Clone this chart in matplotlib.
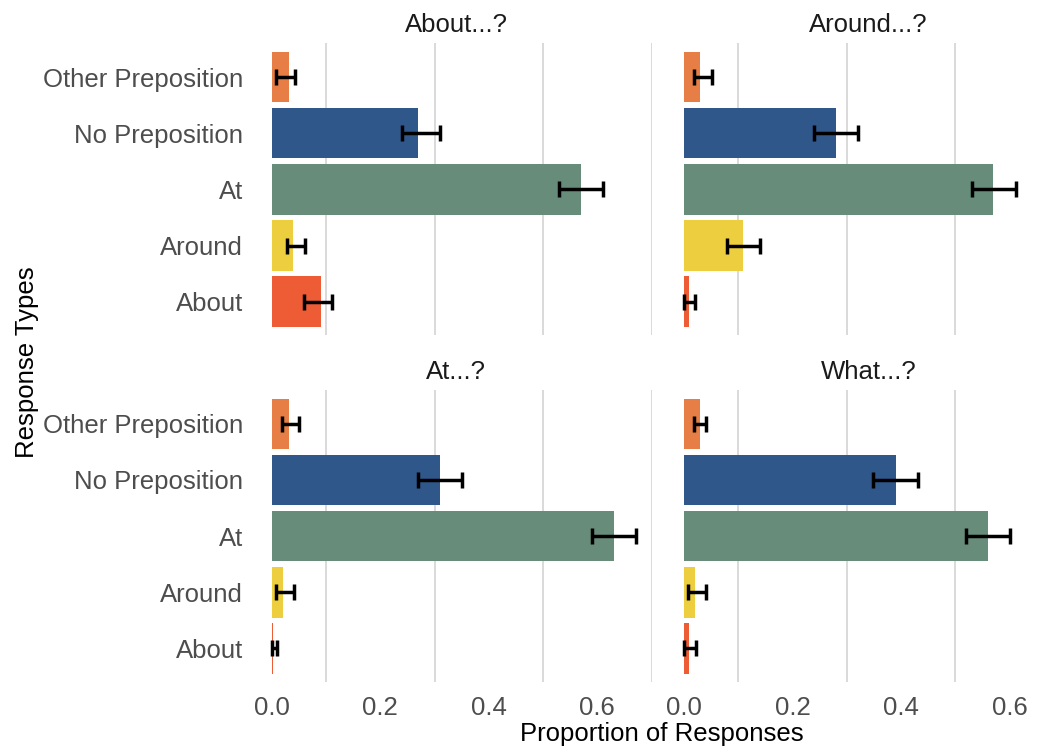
import numpy as np
import matplotlib.pyplot as plt

plt.rcParams['font.family'] = ['Liberation Sans Narrow', 'Liberation Sans', 'DejaVu Sans']

categories = ["Other Preposition", "No Preposition", "At", "Around", "About"]
colors = ["#E67E45", "#30578A", "#678C7A", "#EDCE3E", "#EE5C36"]
panels = ["About...?", "Around...?", "At...?", "What...?"]

# proportion of responses per panel, in category order
about_vals = [0.031, 0.270, 0.570, 0.040, 0.090]
about_lo = [0.008, 0.240, 0.530, 0.029, 0.059]
about_hi = [0.042, 0.311, 0.611, 0.061, 0.111]

around_vals = [0.029, 0.280, 0.570, 0.109, 0.010]
around_lo = [0.019, 0.240, 0.530, 0.080, 0.000]
around_hi = [0.052, 0.321, 0.612, 0.140, 0.020]

at_vals = [0.031, 0.310, 0.631, 0.020, 0.003]
at_lo = [0.019, 0.269, 0.590, 0.008, 0.000]
at_hi = [0.051, 0.351, 0.672, 0.041, 0.010]

what_vals = [0.029, 0.391, 0.561, 0.020, 0.010]
what_lo = [0.018, 0.349, 0.519, 0.008, 0.000]
what_hi = [0.041, 0.432, 0.601, 0.041, 0.022]

data = [(about_vals, about_lo, about_hi), (around_vals, around_lo, around_hi),
        (at_vals, at_lo, at_hi), (what_vals, what_lo, what_hi)]

W, H = 1063, 751
fig = plt.figure(figsize=(W / 100, H / 100), dpi=100)

lefts = [260.9, 673.2]
tops = [43.3, 390.1]
pw, ph = 390.6, 292.1
fs = 18.5
grey = "#4D4D4D"

for i, (title, (vals, lo, hi)) in enumerate(zip(panels, data)):
    col, row = i % 2, i // 2
    ax = fig.add_axes([lefts[col] / W, 1 - (tops[row] + ph) / H, pw / W, ph / H])
    y = np.arange(len(categories))
    vals = np.array(vals)
    err = [vals - np.array(lo), np.array(hi) - vals]
    ax.barh(y, vals, height=0.9, color=colors, zorder=2)
    ax.errorbar(vals, y, xerr=err, fmt='none', ecolor='black', elinewidth=2.5,
                capsize=5.5, capthick=2.5, zorder=3)
    ax.set_xlim(-0.02, 0.70)
    ax.set_ylim(4.6, -0.6)
    ax.set_xticks([0.0, 0.2, 0.4, 0.6])
    ax.set_xticks([0.1, 0.3, 0.5, 0.7], minor=True)
    ax.grid(which='minor', axis='x', color='#D3D3D3', linewidth=1.2, zorder=0)
    ax.grid(which='major', visible=False)
    for s in ax.spines.values():
        s.set_visible(False)
    ax.tick_params(which='both', length=0)
    ax.set_title(title, fontsize=fs, pad=8, color='#1A1A1A')
    if col == 0:
        ax.set_yticks(y)
        ax.set_yticklabels(categories)
        ax.tick_params(axis='y', labelsize=fs, labelcolor=grey, pad=13)
    else:
        ax.set_yticks([])
    if row == 1:
        ax.set_xticklabels(["0.0", "0.2", "0.4", "0.6"])
        ax.tick_params(axis='x', labelsize=fs, labelcolor=grey, pad=10)
    else:
        ax.set_xticklabels([])

fig.text(662 / W, 1 - 734 / H, "Proportion of Responses", fontsize=fs, ha='center', va='center')
fig.text(27 / W, 1 - 362 / H, "Response Types", fontsize=fs, ha='center', va='center', rotation=90)

fig.savefig("out.png", dpi=100)
